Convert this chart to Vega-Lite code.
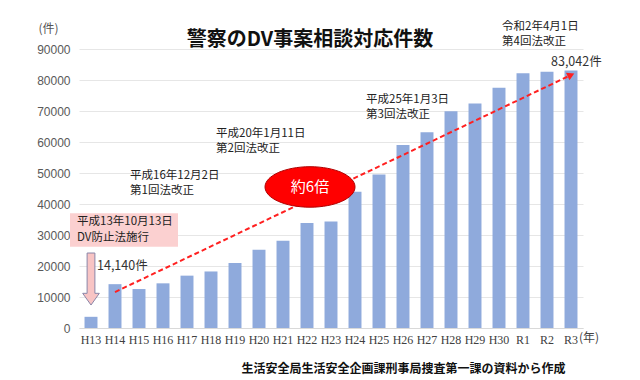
{
  "$schema": "https://vega.github.io/schema/vega-lite/v6.json",
  "width": 504,
  "height": 279,
  "autosize": {"type": "none"},
  "padding": {"left": 79, "top": 49, "right": 57, "bottom": 52},
  "background": "white",
  "config": {"view": {"stroke": null}},
  "data": {"values": [
    {"year": "H13", "count": 3608},
    {"year": "H14", "count": 14140},
    {"year": "H15", "count": 12568},
    {"year": "H16", "count": 14410},
    {"year": "H17", "count": 16888},
    {"year": "H18", "count": 18236},
    {"year": "H19", "count": 20992},
    {"year": "H20", "count": 25210},
    {"year": "H21", "count": 28158},
    {"year": "H22", "count": 33852},
    {"year": "H23", "count": 34329},
    {"year": "H24", "count": 43950},
    {"year": "H25", "count": 49533},
    {"year": "H26", "count": 59072},
    {"year": "H27", "count": 63141},
    {"year": "H28", "count": 69908},
    {"year": "H29", "count": 72455},
    {"year": "H30", "count": 77482},
    {"year": "R1", "count": 82207},
    {"year": "R2", "count": 82643},
    {"year": "R3", "count": 83042}
  ]},
  "encoding": {
    "x": {
      "field": "year", "type": "nominal", "sort": null,
      "scale": {"paddingInner": 0.46, "paddingOuter": 0.23},
      "axis": {
        "labelAngle": 0, "labelFont": "Liberation Serif", "labelFontSize": 12, "labelColor": "#404040",
        "labelPadding": 6, "ticks": false, "domain": true, "domainColor": "#d9d9d9", "grid": false,
        "title": "生活安全局生活安全企画課刑事局捜査第一課の資料から作成",
        "titleFont": "Noto Sans CJK JP", "titleFontSize": 12, "titleFontWeight": "bold", "titleColor": "#111111",
        "titleAlign": "right", "titleAnchor": null, "titleX": 486, "titleY": 40, "titleBaseline": "middle"
      }
    },
    "y": {
      "field": "count", "type": "quantitative",
      "scale": {"domain": [0, 90000], "nice": false},
      "axis": {
        "values": [0, 10000, 20000, 30000, 40000, 50000, 60000, 70000, 80000, 90000],
        "format": "d", "labelFont": "Liberation Sans", "labelFontSize": 12, "labelColor": "#595959",
        "labelPadding": 9, "ticks": false, "domain": false, "grid": true, "gridColor": "#e6e6e6",
        "title": "(件)", "titleAngle": 0, "titleX": -31, "titleY": -21, "titleAlign": "center",
        "titleBaseline": "middle", "titleFont": "Noto Sans CJK JP", "titleFontSize": 12,
        "titleFontWeight": "normal", "titleColor": "#555555"
      }
    }
  },
  "layer": [
    {"mark": {"type": "bar", "color": "#8faadc"}},
    {
      "data": {"values": [{"year": "H14", "count": 11600}, {"year": "R3", "count": 81600}]},
      "mark": {"type": "line", "color": "#ff2020", "strokeWidth": 2, "strokeDash": [5, 3]}
    },
    {
      "data": {"values": [{"year": "R3", "count": 81600}]},
      "mark": {"type": "point", "shape": "triangle-right", "filled": true, "color": "#ff2020", "size": 70, "angle": 335, "opacity": 1}
    },
    {
      "data": {"values": [{"year": "H22", "count": 45500}]},
      "mark": {"type": "point", "shape": "M -0.933 0 A 1 0.45 0 1 0 1.067 0 A 1 0.45 0 1 0 -0.933 0 Z", "size": 8100, "filled": true, "fill": "#ff0000", "stroke": "#b00000", "strokeWidth": 1, "opacity": 1}
    },
    {
      "data": {"values": [{"year": "H22", "count": 45500, "label": "約6倍"}]},
      "mark": {"type": "text", "color": "white", "font": "Noto Sans CJK JP", "fontSize": 15, "align": "center", "baseline": "middle", "dx": 3},
      "encoding": {"text": {"field": "label"}}
    },
    {
      "data": {"values": [{"year": "H14", "count": 31600}]},
      "mark": {"type": "point", "shape": "M -0.833 -0.31 L 1.167 -0.31 L 1.167 0.31 L -0.833 0.31 Z", "size": 11664, "filled": true, "fill": "#fbd0d0", "strokeWidth": 0, "opacity": 1}
    },
    {
      "data": {"values": [{"year": "H13", "count": 15800}]},
      "mark": {"type": "point", "shape": "M -0.15 -1 L 0.15 -1 L 0.15 0.55 L 0.32 0.55 L 0 1 L -0.32 0.55 L -0.15 0.55 Z", "size": 2704, "filled": true, "fill": "#f8c4c4", "stroke": "#8a86a8", "strokeWidth": 1, "opacity": 1}
    },
    {
      "data": {"values": [
        {"year": "H13", "count": 34200, "label": "平成13年10月13日"},
        {"year": "H13", "count": 29100, "label": "DV防止法施行"}
      ]},
      "mark": {"type": "text", "align": "left", "baseline": "middle", "dx": -14, "font": "Noto Sans CJK JP", "fontSize": 11.5, "color": "#222222"},
      "encoding": {"text": {"field": "label"}}
    },
    {
      "data": {"values": [
        {"year": "H15", "count": 49000, "label": "平成16年12月2日"},
        {"year": "H15", "count": 44200, "label": "第1回法改正"}
      ]},
      "mark": {"type": "text", "align": "left", "baseline": "middle", "dx": -9, "font": "Noto Sans CJK JP", "fontSize": 11.5, "color": "#222222"},
      "encoding": {"text": {"field": "label"}}
    },
    {
      "data": {"values": [
        {"year": "H19", "count": 62600, "label": "平成20年1月11日"},
        {"year": "H19", "count": 57700, "label": "第2回法改正"}
      ]},
      "mark": {"type": "text", "align": "left", "baseline": "middle", "dx": -19, "font": "Noto Sans CJK JP", "fontSize": 11.5, "color": "#222222"},
      "encoding": {"text": {"field": "label"}}
    },
    {
      "data": {"values": [
        {"year": "H25", "count": 73500, "label": "平成25年1月3日"},
        {"year": "H25", "count": 68700, "label": "第3回法改正"}
      ]},
      "mark": {"type": "text", "align": "left", "baseline": "middle", "dx": -13, "font": "Noto Sans CJK JP", "fontSize": 11.5, "color": "#222222"},
      "encoding": {"text": {"field": "label"}}
    },
    {
      "data": {"values": [
        {"year": "H30", "count": 97100, "label": "令和2年4月1日"},
        {"year": "H30", "count": 92300, "label": "第4回法改正"}
      ]},
      "mark": {"type": "text", "align": "left", "baseline": "middle", "dx": 3, "font": "Noto Sans CJK JP", "fontSize": 11.5, "color": "#222222"},
      "encoding": {"text": {"field": "label"}}
    },
    {
      "data": {"values": [{"year": "R2", "count": 85800, "label": "83,042件"}]},
      "mark": {"type": "text", "align": "left", "baseline": "middle", "dx": 4, "font": "Noto Sans CJK JP", "fontSize": 12.5, "color": "#333333"},
      "encoding": {"text": {"field": "label"}}
    },
    {
      "data": {"values": [{"year": "H13", "count": 20000, "label": "14,140件"}]},
      "mark": {"type": "text", "align": "left", "baseline": "middle", "dx": 6, "font": "Noto Sans CJK JP", "fontSize": 12.5, "color": "#333333"},
      "encoding": {"text": {"field": "label"}}
    },
    {
      "data": {"values": [{"year": "H22", "count": 92900, "label": "警察のDV事案相談対応件数"}]},
      "mark": {"type": "text", "align": "center", "baseline": "middle", "dx": 3, "font": "Noto Sans CJK JP", "fontSize": 20, "fontWeight": "bold", "color": "#111111"},
      "encoding": {"text": {"field": "label"}}
    },
    {
      "data": {"values": [{"year": "R3", "count": -3300, "label": "(年)"}]},
      "mark": {"type": "text", "align": "left", "baseline": "middle", "dx": 8, "font": "Noto Sans CJK JP", "fontSize": 12, "color": "#444444"},
      "encoding": {"text": {"field": "label"}}
    }
  ]
}
